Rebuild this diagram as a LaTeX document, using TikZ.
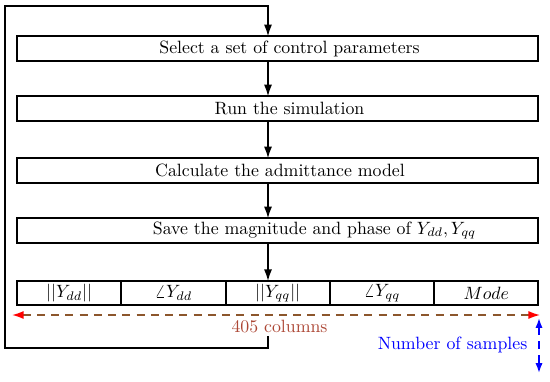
\documentclass[tikz,border=0pt]{standalone}
\usetikzlibrary{positioning}
\usetikzlibrary{calc}
\usetikzlibrary{arrows.meta}

\def\pxu{0.562}
\definecolor{colsred}{RGB}{172,70,52}
\definecolor{colsdash}{RGB}{140,86,44}

\tikzset{
  stepbox/.style={draw, line width=1.1pt, minimum width=521*\pxu pt, minimum height=24.5*\pxu pt, inner sep=0pt, outer sep=0pt},
  cellbox/.style={draw, line width=1.1pt, minimum width=104.3*\pxu pt, minimum height=24*\pxu pt, inner sep=0pt, outer sep=0pt},
  flow/.style={line width=0.8pt, -{Latex[length=6.5pt,width=4.5pt]}},
}

\begin{document}
\begin{tikzpicture}[x=\pxu pt, y=-\pxu pt]
\useasboundingbox (0,0) rectangle (550,381);

% axis of the flow
\coordinate (axis) at (268,0);

% steps
\node[stepbox, label={[xshift=12*\pxu pt]center:Select a set of control parameters}] (select) at (277.5,48.5) {};
\node[stepbox, label={[xshift=12*\pxu pt]center:Run the simulation}] (run) at (277.5,108.5) {};
\node[stepbox, label={[xshift=2.5*\pxu pt]center:Calculate the admittance model}] (calc) at (277.5,170.5) {};
\node[stepbox, label={[xshift=37*\pxu pt]center:Save the magnitude and phase of $Y_{dd},Y_{qq}$}] (save) at (277.5,230.5) {};

% table of columns
\node[cellbox] (magdd) at (69.1,293) {$||Y_{dd}||$};
\node[cellbox, right=0pt of magdd] (angdd) {$\angle Y_{dd}$};
\node[cellbox, right=0pt of angdd] (magqq) {$||Y_{qq}||$};
\node[cellbox, right=0pt of magqq] (angqq) {$\angle Y_{qq}$};
\node[cellbox, right=0pt of angqq] (mode) {$Mode$};

% arrows
\draw[flow] (select.south -| axis) -- (run.north -| axis);
\draw[flow] (run.south -| axis) -- (calc.north -| axis);
\draw[flow] (calc.south -| axis) -- (save.north -| axis);
\draw[flow] (save.south -| axis) -- (magqq.north -| axis);

% loop back
\coordinate (loopend) at (268,336);
\coordinate (looptop) at (268,6);
\draw[flow] (loopend) |- (5,348) |- (looptop) -- (select.north -| axis);

% columns
\coordinate (colsL) at (12,315);
\coordinate (colsR) at (540,315);
\draw[colsdash, line width=0.9pt, dash pattern=on 4.5pt off 3.5pt, {Latex[red,length=6.5pt,width=4.5pt]}-{Latex[red,length=6.5pt,width=4.5pt]}] (colsL) -- (colsR);
\node[text=colsred, inner sep=1pt] (ncols) at (279.5,327) {405 columns};

% samples
\coordinate (sampT) at (539,318);
\coordinate (sampB) at (539,373);
\draw[blue, line width=0.9pt, dash pattern=on 4.5pt off 3.5pt, {Latex[length=5.5pt,width=4pt]}-{Latex[length=5.5pt,width=4pt]}] (sampT) -- (sampB);
\node[text=blue, inner sep=1pt] (nsamp) at (452.5,344.5) {Number of samples};

\end{tikzpicture}
\end{document}
